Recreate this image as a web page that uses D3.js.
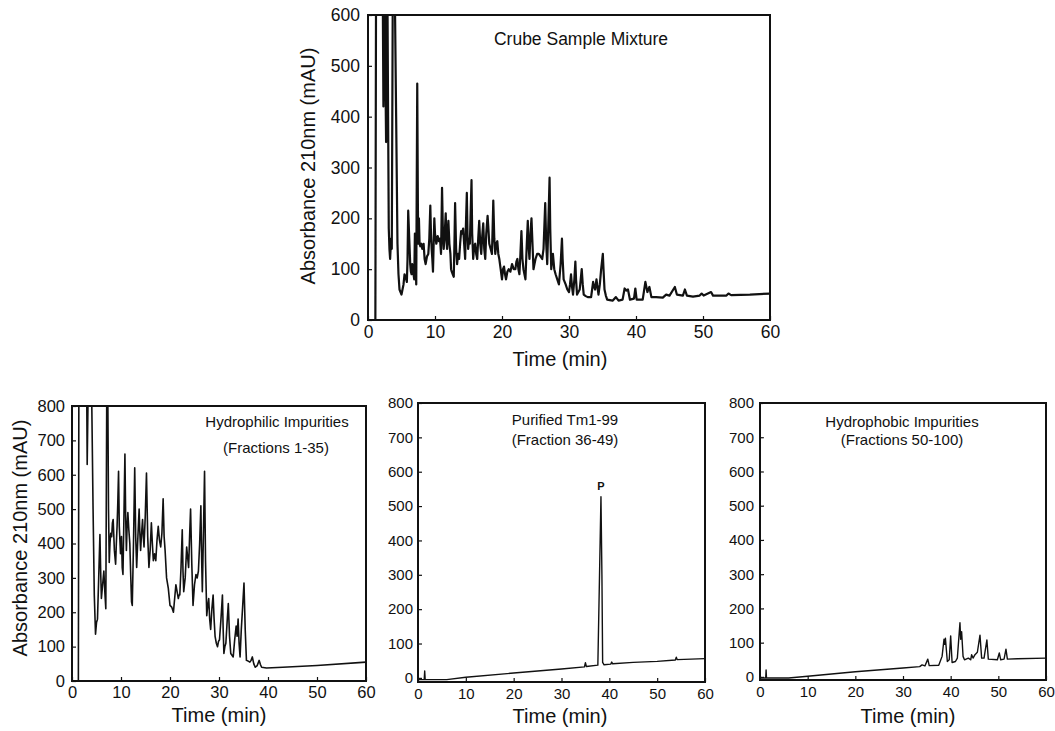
<!DOCTYPE html>
<html>
<head>
<meta charset="utf-8">
<script src="https://cdn.jsdelivr.net/npm/d3@7"></script>
<style>
  body { margin: 0; background: #fff; }
  text { font-family: "Liberation Sans", Arial, Helvetica, sans-serif; fill: #111; }
</style>
</head>
<body>
<svg id="chart" width="1055" height="731"></svg>
<script>
// ---- data: HPLC traces, [time (min), absorbance 210 nm (mAU)] ----
const timeTicks = [0, 10, 20, 30, 40, 50, 60];
const crudeTicks = [0, 100, 200, 300, 400, 500, 600];
const fractionTicks = [0, 100, 200, 300, 400, 500, 600, 700, 800];

const crudeTrace = [
  [0,0],[1.1,0],[1.2,650],[2.2,650],[2.3,420],[2.4,600],[2.5,650],[2.6,480],[2.7,350],[2.8,560],
  [2.9,650],[3.0,400],[3.1,180],[3.2,140],[3.3,120],[3.45,160],[3.55,140],[3.7,650],[4.0,650],
  [4.2,400],[4.4,150],[4.55,90],[4.7,60],[4.85,55],[5.0,50],[5.15,60],[5.3,70],[5.45,90],[5.6,85],
  [5.8,75],[5.9,120],[6.0,215],[6.1,180],[6.3,110],[6.4,95],[6.5,90],[6.6,110],[6.7,100],[6.8,90],
  [6.9,80],[7.0,170],[7.1,120],[7.2,70],[7.35,465],[7.45,220],[7.5,150],[7.6,200],[7.7,150],
  [7.8,145],[7.95,150],[8.1,140],[8.3,150],[8.45,120],[8.6,110],[8.8,125],[9.0,130],[9.15,160],
  [9.3,225],[9.4,170],[9.5,140],[9.6,120],[9.7,95],[9.8,150],[9.9,200],[10.0,170],[10.2,150],
  [10.4,165],[10.6,155],[10.75,160],[10.9,130],[11.05,260],[11.2,160],[11.3,140],[11.45,170],
  [11.6,210],[11.7,160],[11.8,140],[11.9,170],[12.0,195],[12.15,150],[12.3,130],[12.4,100],
  [12.5,95],[12.65,90],[12.8,85],[12.9,150],[13.0,230],[13.15,140],[13.3,110],[13.45,130],
  [13.6,120],[13.75,150],[13.9,175],[14.05,170],[14.2,180],[14.35,150],[14.5,120],[14.6,180],
  [14.75,250],[14.85,170],[14.95,140],[15.1,160],[15.2,150],[15.3,200],[15.45,275],[15.55,170],
  [15.7,120],[15.85,145],[16.0,150],[16.15,130],[16.3,120],[16.45,160],[16.6,195],[16.75,150],
  [16.9,130],[17.05,165],[17.2,190],[17.35,140],[17.5,120],[17.65,170],[17.85,205],[17.95,185],
  [18.1,150],[18.3,140],[18.5,130],[18.6,180],[18.7,235],[18.85,160],[19.0,130],[19.15,150],
  [19.3,155],[19.45,130],[19.6,120],[19.8,100],[20.0,80],[20.15,100],[20.3,105],[20.45,90],
  [20.6,80],[20.8,95],[21.0,100],[21.25,95],[21.5,110],[21.75,100],[22.0,100],[22.15,115],
  [22.3,120],[22.45,100],[22.6,90],[22.75,130],[22.9,175],[23.05,120],[23.2,100],[23.35,90],
  [23.5,80],[23.7,150],[23.85,195],[23.95,150],[24.1,120],[24.25,170],[24.4,200],[24.55,150],
  [24.7,100],[24.85,110],[25.0,120],[25.25,130],[25.5,130],[25.75,125],[26.0,120],[26.2,140],
  [26.45,230],[26.6,150],[26.75,110],[26.9,180],[27.1,280],[27.2,180],[27.35,100],[27.5,120],
  [27.6,130],[27.8,100],[28.0,90],[28.25,80],[28.5,70],[28.75,110],[28.95,160],[29.05,120],
  [29.2,80],[29.35,75],[29.5,70],[29.75,60],[30.0,55],[30.15,70],[30.3,90],[30.45,65],[30.6,50],
  [30.8,80],[30.95,115],[31.05,80],[31.2,50],[31.4,55],[31.6,60],[31.75,80],[31.9,100],[32.05,70],
  [32.2,50],[32.5,47],[32.8,45],[33.3,45],[33.45,60],[33.6,75],[33.75,65],[33.9,60],[34.1,80],
  [34.25,65],[34.4,50],[34.6,70],[34.8,100],[35.05,130],[35.15,100],[35.3,60],[35.5,48],[35.7,40],
  [36.5,38],[37.0,45],[37.4,38],[38.0,40],[38.3,62],[38.55,58],[38.8,60],[39.1,40],[39.7,42],
  [39.9,62],[40.1,40],[41.0,40],[41.4,75],[41.7,55],[42.0,65],[42.3,45],[43.0,45],[44.0,44],
  [44.5,50],[45.0,48],[45.8,65],[46.1,50],[47.0,48],[47.3,60],[47.6,48],[48.5,46],[49.5,48],
  [49.8,52],[50.1,48],[51.2,55],[51.5,48],[53.5,48],[53.8,52],[54.2,49],[57,50],[60,52]
];

const hydrophilicTrace = [
  [0,0],[1.3,0],[1.4,850],[3.0,850],[3.1,630],[3.3,850],[4.0,850],[4.3,500],[4.55,250],[4.8,136],
  [5.0,170],[5.2,180],[5.45,300],[5.7,426],[5.85,320],[6.0,240],[6.25,280],[6.5,320],[6.7,260],
  [6.9,210],[7.1,850],[7.3,850],[7.45,500],[7.6,345],[7.75,400],[7.9,430],[8.1,420],[8.25,460],
  [8.4,470],[8.65,380],[8.9,340],[9.05,400],[9.2,450],[9.35,520],[9.5,610],[9.65,450],[9.9,370],
  [10.1,420],[10.25,330],[10.4,310],[10.6,480],[10.8,660],[10.95,480],[11.1,380],[11.25,450],
  [11.4,490],[11.6,440],[11.8,400],[12.0,300],[12.15,230],[12.3,220],[12.55,400],[12.8,620],
  [13.0,420],[13.2,330],[13.45,420],[13.7,500],[13.85,430],[14.0,380],[14.2,430],[14.4,470],
  [14.55,420],[14.7,390],[14.95,480],[15.2,605],[15.45,420],[15.7,330],[15.95,380],[16.2,460],
  [16.4,400],[16.6,350],[16.85,370],[17.1,350],[17.35,410],[17.6,450],[17.85,410],[18.1,390],
  [18.35,430],[18.6,530],[18.8,420],[19.0,380],[19.15,340],[19.3,300],[19.65,270],[20.0,220],
  [20.35,215],[20.7,200],[20.95,240],[21.2,280],[21.45,260],[21.7,240],[21.85,250],[22.0,250],
  [22.25,330],[22.5,440],[22.65,320],[22.8,260],[23.1,300],[23.4,390],[23.6,360],[23.8,330],
  [24.0,420],[24.2,500],[24.45,340],[24.7,220],[25.0,280],[25.3,310],[25.55,300],[25.8,320],
  [26.05,400],[26.3,510],[26.45,360],[26.6,260],[26.85,450],[27.05,610],[27.25,350],[27.5,190],
  [27.7,220],[27.9,240],[28.1,180],[28.3,150],[28.55,210],[28.8,250],[29.0,180],[29.2,130],
  [29.45,110],[29.7,100],[29.9,115],[30.1,120],[30.4,180],[30.7,250],[30.85,150],[31.0,80],
  [31.2,100],[31.4,110],[31.65,170],[31.9,225],[32.15,130],[32.4,80],[32.65,75],[32.9,70],
  [33.2,120],[33.5,160],[33.7,130],[33.9,180],[34.1,110],[34.3,70],[34.55,150],[34.8,210],
  [35.1,285],[35.35,150],[35.6,60],[35.95,58],[36.3,55],[36.55,60],[36.8,70],[37.1,50],[37.4,40],
  [37.8,45],[38.2,60],[38.45,48],[38.7,40],[39.7,38],[43,40],[50,45],[60,55]
];

const purifiedTrace = [
  [0,-5],[1.3,-5],[1.4,20],[1.5,-5],[6,-5],[10,2],[20,14],[30,26],[34.8,32],[35.0,44],[35.2,33],
  [37.6,37],[37.95,300],[38.25,527],[38.45,300],[38.6,45],[38.9,38],[40.3,40],[40.5,46],[40.7,41],
  [45,45],[50,48],[53.8,52],[54.0,60],[54.2,53],[60,56]
];

const hydrophobicTrace = [
  [0,-3],[1.2,-3],[1.28,20],[1.36,-3],[6,-3],[10,2],[20,15],[30,26],[33.5,30],[34.0,35],[34.6,32],
  [35.2,52],[35.5,33],[37.5,34],[38.2,60],[38.6,110],[38.75,95],[38.9,113],[39.3,45],[39.7,50],
  [40.0,120],[40.3,42],[41.0,45],[41.4,55],[41.95,158],[42.1,110],[42.3,132],[42.6,60],[42.9,50],
  [43.7,55],[44.2,50],[44.4,65],[44.7,55],[45.1,65],[45.6,72],[46.15,122],[46.5,55],[47.0,55],
  [47.6,108],[47.9,52],[49.8,50],[50.2,70],[50.5,50],[51.2,52],[51.6,81],[51.9,52],[54,53],[60,55]
];

// ---- drawing ----
const svg = d3.select("#chart");

function panel(cfg) {
  const { left, right, top, bottom } = cfg.box;
  const x = d3.scaleLinear().domain([0, 60]).range([left, right]);
  const y = d3.scaleLinear().domain(cfg.yDomain).range([bottom, top]);
  const g = svg.append("g");

  const clipId = "clip-" + cfg.id;
  svg.append("clipPath").attr("id", clipId)
    .append("rect").attr("x", left).attr("y", top)
    .attr("width", right - left).attr("height", bottom - top);

  // trace
  g.append("path")
    .datum(cfg.trace)
    .attr("clip-path", `url(#${clipId})`)
    .attr("fill", "none")
    .attr("stroke", "#111")
    .attr("stroke-width", cfg.lineWidth)
    .attr("stroke-linejoin", "round")
    .attr("d", d3.line().x(d => x(d[0])).y(d => y(d[1])));

  // axes with inward ticks
  const xAxis = g.append("g").attr("transform", `translate(0,${bottom})`)
    .call(d3.axisBottom(x).tickValues(timeTicks).tickSize(-4).tickPadding(cfg.xPad).tickFormat(d3.format("d")));
  const yAxis = g.append("g").attr("transform", `translate(${left},0)`)
    .call(d3.axisLeft(y).tickValues(cfg.yTicks).tickSize(-4).tickPadding(cfg.yPad).tickFormat(d3.format("d")));
  [xAxis, yAxis].forEach(a => {
    a.select(".domain").remove();
    a.selectAll(".tick line").attr("stroke", "#111").attr("stroke-width", 1.2);
    a.selectAll(".tick text").attr("font-size", cfg.tickFont).attr("fill", "#111")
      .attr("font-family", '"Liberation Sans", Arial, sans-serif');
  });

  // frame
  g.append("rect").attr("x", left).attr("y", top)
    .attr("width", right - left).attr("height", bottom - top)
    .attr("fill", "none").attr("stroke", "#111").attr("stroke-width", 2);

  // axis titles
  g.append("text").attr("x", cfg.xTitle[0]).attr("y", cfg.xTitle[1])
    .attr("text-anchor", "middle").attr("font-size", 20).text("Time (min)");
  if (cfg.yTitle) {
    g.append("text")
      .attr("transform", `translate(${cfg.yTitle[0]},${cfg.yTitle[1]}) rotate(-90)`)
      .attr("text-anchor", "middle").attr("font-size", 20).text("Absorbance 210nm (mAU)");
  }

  // panel labels
  cfg.labels.forEach(l => {
    g.append("text").attr("x", l.x).attr("y", l.y).attr("text-anchor", "middle")
      .attr("font-size", l.size).text(l.text);
  });
  return { x, y, g };
}

panel({
  id: "crude", trace: crudeTrace, yDomain: [0, 600], yTicks: crudeTicks,
  box: { left: 368, right: 770, top: 15, bottom: 320 },
  lineWidth: 2.2, tickFont: 17.5, xPad: 6, yPad: 8,
  xTitle: [560, 366], yTitle: [315, 166],
  labels: [{ text: "Crube Sample Mixture", x: 581, y: 45, size: 17.5 }]
});

panel({
  id: "hydrophilic", trace: hydrophilicTrace, yDomain: [0, 800], yTicks: fractionTicks,
  box: { left: 72, right: 366, top: 406, bottom: 681 },
  lineWidth: 1.6, tickFont: 16.5, xPad: 5, yPad: 7,
  xTitle: [219, 722], yTitle: [27, 538],
  labels: [
    { text: "Hydrophilic Impurities", x: 277, y: 427, size: 15 },
    { text: "(Fractions 1-35)", x: 276, y: 453, size: 15 }
  ]
});

const pure = panel({
  id: "purified", trace: purifiedTrace, yDomain: [-12, 800], yTicks: fractionTicks,
  box: { left: 418, right: 705, top: 403, bottom: 682 },
  lineWidth: 1.4, tickFont: 15, xPad: 6, yPad: 5,
  xTitle: [560, 723], yTitle: null,
  labels: [
    { text: "Purified Tm1-99", x: 565, y: 425, size: 15 },
    { text: "(Fraction 36-49)", x: 565, y: 445, size: 15 }
  ]
});
// peak marker for the purified product
const peak = purifiedTrace.reduce((a, b) => (b[1] > a[1] ? b : a));
pure.g.append("text").attr("x", pure.x(peak[0])).attr("y", pure.y(peak[1]) - 7)
  .attr("text-anchor", "middle").attr("font-size", 11).attr("font-weight", "bold").text("P");

panel({
  id: "hydrophobic", trace: hydrophobicTrace, yDomain: [-9, 800], yTicks: fractionTicks,
  box: { left: 760, right: 1046, top: 403, bottom: 680 },
  lineWidth: 1.4, tickFont: 15, xPad: 6, yPad: 6,
  xTitle: [908, 723], yTitle: null,
  labels: [
    { text: "Hydrophobic Impurities", x: 902, y: 427, size: 15 },
    { text: "(Fractions 50-100)", x: 902, y: 445, size: 15 }
  ]
});
</script>
</body>
</html>
